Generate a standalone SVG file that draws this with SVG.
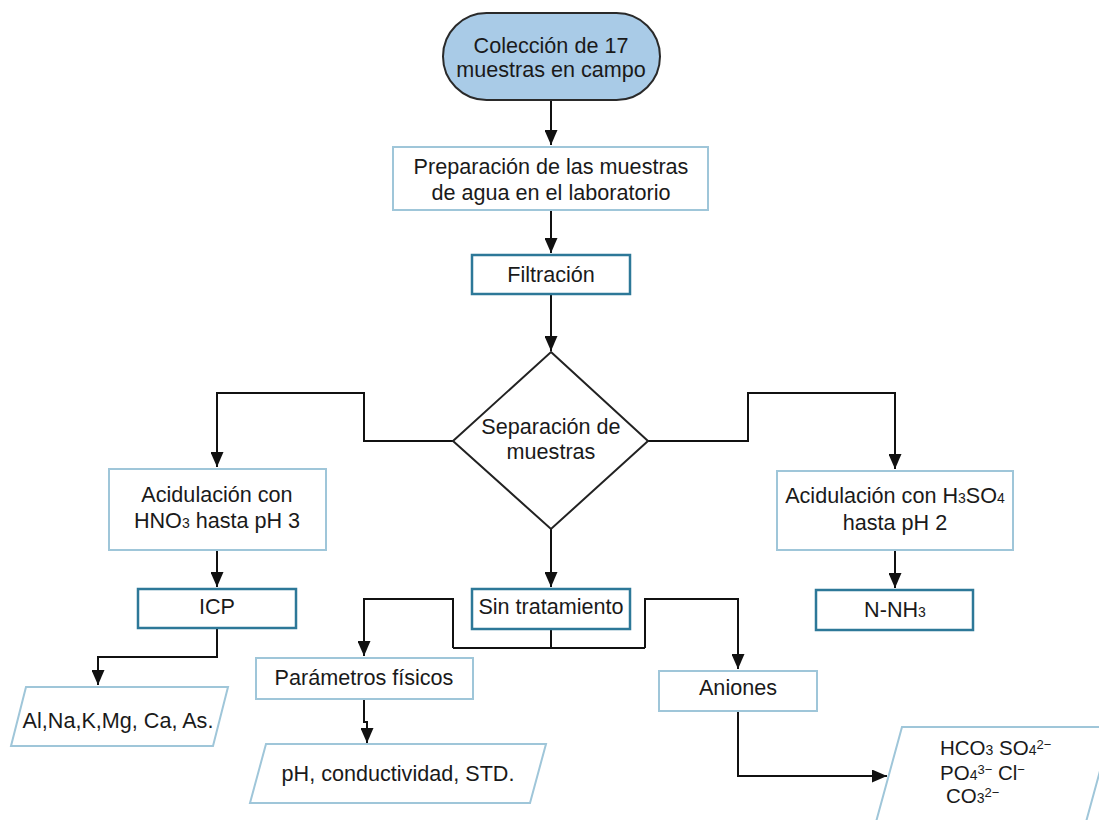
<svg xmlns="http://www.w3.org/2000/svg" width="1099" height="820" viewBox="0 0 1099 820">
<style>
text{font-family:"Liberation Sans",Arial,sans-serif;font-size:21.6px;fill:#1a1a1a;text-anchor:middle}
.lb{fill:#fff;stroke:#9fc6d9;stroke-width:2}
.db{fill:#fff;stroke:#2d7898;stroke-width:2.5}
.c{fill:none;stroke:#111;stroke-width:2}
.sub{font-size:14px}
.sup{font-size:13px}
.ion{text-anchor:start;font-size:20.5px}
</style>
<defs>
<marker id="ah" markerUnits="userSpaceOnUse" markerWidth="15" markerHeight="13" refX="15" refY="6.5" orient="auto">
<path d="M0,0 L15,6.5 L0,13 z" fill="#111"/>
</marker>
</defs>
<rect width="1099" height="820" fill="#fff"/>
<g id="connectors">
<path class="c" d="M551,100 V145" marker-end="url(#ah)"/>
<path class="c" d="M551,210 V253" marker-end="url(#ah)"/>
<path class="c" d="M551,294 V351" marker-end="url(#ah)"/>
<path class="c" d="M453,441 H364 V393 H217 V467" marker-end="url(#ah)"/>
<path class="c" d="M217,550 V587" marker-end="url(#ah)"/>
<path class="c" d="M217,628 V657 H98 V685" marker-end="url(#ah)"/>
<path class="c" d="M551,529 V587" marker-end="url(#ah)"/>
<path class="c" d="M648,441 H748 V393 H895 V469" marker-end="url(#ah)"/>
<path class="c" d="M895,550 V588" marker-end="url(#ah)"/>
<path class="c" d="M551,629 V648 M453,648 H645"/>
<path class="c" d="M453,648 V599 H364 V656" marker-end="url(#ah)"/>
<path class="c" d="M645,648 V599 H738 V669" marker-end="url(#ah)"/>
<path class="c" d="M364,699 V722 H367 V743" marker-end="url(#ah)"/>
<path class="c" d="M738,711 V776 H887" marker-end="url(#ah)"/>
</g>
<g id="n-coleccion">
<rect x="443" y="13" width="217" height="87" rx="43.5" fill="#a9cbe7" stroke="#2a2a2a" stroke-width="2"/>
<text x="551" y="53">Colección de 17</text>
<text x="551" y="77">muestras en campo</text>
</g>
<g id="n-preparacion">
<rect class="lb" x="393" y="147" width="315" height="63"/>
<text x="551" y="174">Preparación de las muestras</text>
<text x="551" y="200">de agua en el laboratorio</text>
</g>
<g id="n-filtracion">
<rect class="db" x="472" y="255" width="158" height="39"/>
<text x="551" y="282">Filtración</text>
</g>
<g id="n-separacion">
<polygon points="551,352 648,441 551,529 453,441" fill="#fff" stroke="#222" stroke-width="2"/>
<text x="551" y="434">Separación de</text>
<text x="551" y="459">muestras</text>
</g>
<g id="n-hno3">
<rect class="lb" x="109" y="469" width="217" height="81"/>
<text x="217" y="502">Acidulación con</text>
<text x="217" y="528">HNO<tspan class="sub">3</tspan> hasta pH 3</text>
</g>
<g id="n-icp">
<rect class="db" x="138" y="589" width="158" height="39"/>
<text x="217" y="614">ICP</text>
</g>
<g id="n-metales">
<polygon class="lb" points="26,687 228,687 213,746 11,746"/>
<text x="118" y="728">Al,Na,K,Mg, Ca, As.</text>
</g>
<g id="n-sin">
<rect class="db" x="472" y="589" width="158" height="40"/>
<text x="551" y="614">Sin tratamiento</text>
</g>
<g id="n-h3so4">
<rect class="lb" x="777" y="471" width="236" height="79"/>
<text x="895" y="503">Acidulación con H<tspan class="sub">3</tspan>SO<tspan class="sub">4</tspan></text>
<text x="895" y="530">hasta pH 2</text>
</g>
<g id="n-nnh3">
<rect class="db" x="816" y="590" width="157" height="40"/>
<text x="895" y="617">N-NH<tspan class="sub">3</tspan></text>
</g>
<g id="n-parametros">
<rect class="lb" x="256" y="658" width="217" height="41"/>
<text x="364" y="685">Parámetros físicos</text>
</g>
<g id="n-ph">
<polygon class="lb" points="266,744 546,744 530,803 250,803"/>
<text x="398" y="781">pH, conductividad, STD.</text>
</g>
<g id="n-aniones">
<rect class="lb" x="659" y="671" width="158" height="40"/>
<text x="738" y="695">Aniones</text>
</g>
<g id="n-iones">
<polygon class="lb" points="902,727 1112,727 1086,822 876,822"/>
<text class="ion" x="940" y="755">HCO<tspan class="sub">3</tspan> SO<tspan class="sub">4</tspan><tspan class="sup" dy="-6">2−</tspan></text>
<text class="ion" x="940" y="780">PO<tspan class="sub">4</tspan><tspan class="sup" dy="-6">3−</tspan><tspan dy="6"> Cl</tspan><tspan class="sup" dy="-6">−</tspan></text>
<text class="ion" x="946" y="803">CO<tspan class="sub">3</tspan><tspan class="sup" dy="-6">2−</tspan></text>
</g>
</svg>
